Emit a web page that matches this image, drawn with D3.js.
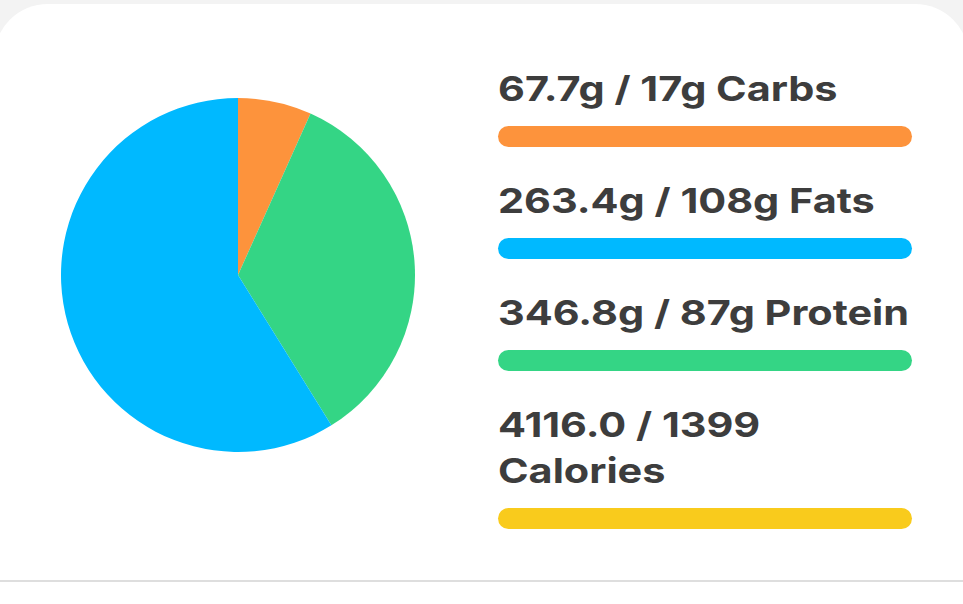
<!DOCTYPE html>
<html>
<head>
<meta charset="utf-8">
<script src="https://cdn.jsdelivr.net/npm/d3@7"></script>
<style>
  html, body { margin: 0; padding: 0; background: #fff; }
  svg { display: block; }
  text { font-family: Inter, "Open Sans", sans-serif; font-weight: 700; fill: #3d3d3d; }
</style>
</head>
<body>
<svg id="chart"></svg>
<script>
// macros as shown in the rows
const names = ["Carbs", "Fats", "Protein", "Calories"];
const consumed = ["67.7g", "263.4g", "346.8g", "4116.0"];
const targets = ["17g", "108g", "87g", "1399"];
const labelLines = [
  ["67.7g / 17g Carbs"],
  ["263.4g / 108g Fats"],
  ["346.8g / 87g Protein"],
  ["4116.0 / 1399", "Calories"]
];
const barColors = ["#fd933c", "#00b9ff", "#34d585", "#f9cb1c"];

// pie slices, clockwise from 12 o'clock (share of calories from each macro)
const pieNames = ["Carbs", "Protein", "Fats"];
const pieValues = [270.8, 1387.2, 2370.6];
const pieColors = ["#fd933c", "#34d585", "#00b9ff"];

const w = 963, h = 604;
const svg = d3.select("#chart").attr("width", w).attr("height", h);

//page background and card
svg.append("rect").attr("width", w).attr("height", h).attr("fill", "#f3f3f3");
svg.append("rect")
  .attr("x", -6).attr("y", 4)
  .attr("width", w + 12).attr("height", 640)
  .attr("rx", 54).attr("ry", 54)
  .attr("fill", "#fff");
svg.append("rect")
  .attr("x", 0).attr("y", 580)
  .attr("width", w).attr("height", 2)
  .attr("fill", "#dedede");

//pie
const radius = 177;
const pie = d3.pie().sort(null);
const arc = d3.arc().innerRadius(0).outerRadius(radius);
svg.append("g")
  .attr("transform", "translate(238,275)")
  .selectAll("path")
  .data(pie(pieValues))
  .join("path")
  .attr("d", arc)
  .attr("fill", (d, i) => pieColors[i]);

//rows: every bar is clamped at 100% since consumed is over target
const xScale = d3.scaleLinear().domain([0, 1]).range([498, 912]).clamp(true);
const lineHeight = 46, barHeight = 21;
const textStretch = 1.2; // the original face is much wider than Inter
let y = 101;

names.forEach((name, i) => {
  const row = svg.append("g").attr("class", "row");
  labelLines[i].forEach((line, j) => {
    row.append("text")
      .attr("transform", `translate(498,${y + j * lineHeight}) scale(${textStretch},1)`)
      .attr("font-size", 34.5)
      .text(line);
  });
  const baseline = y + (labelLines[i].length - 1) * lineHeight;
  row.append("rect")
    .attr("x", xScale(0))
    .attr("y", baseline + 25)
    .attr("width", xScale(parseFloat(consumed[i]) / parseFloat(targets[i])) - xScale(0))
    .attr("height", barHeight)
    .attr("rx", barHeight / 2)
    .attr("fill", barColors[i]);
  y = baseline + 112;
});
</script>
</body>
</html>
